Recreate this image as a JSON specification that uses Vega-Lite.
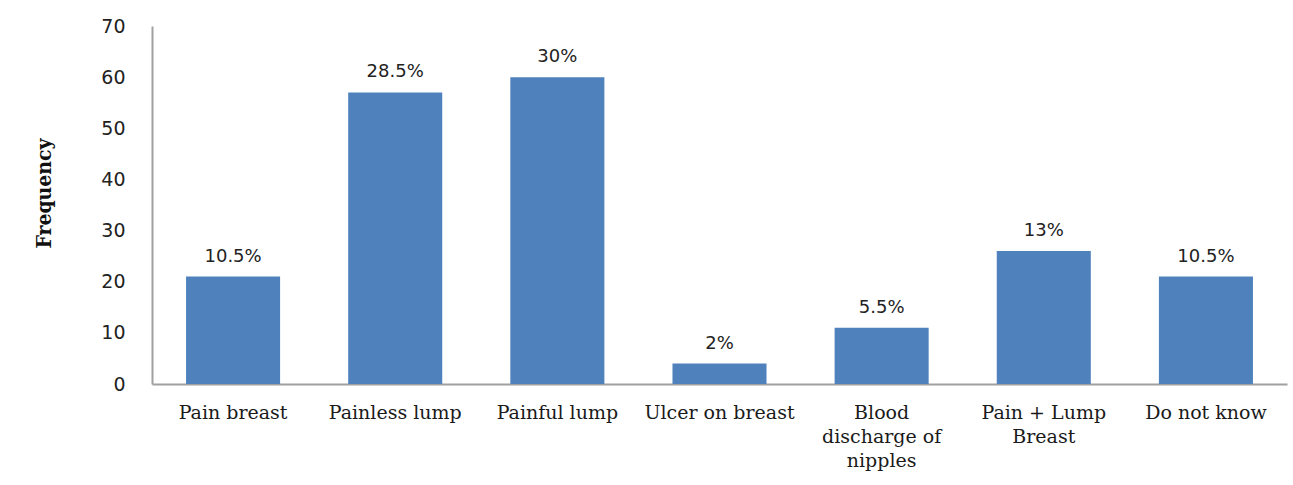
{
  "$schema": "https://vega.github.io/schema/vega-lite/v6.json",
  "autosize": {"type": "none"},
  "padding": {"left": 152, "top": 26, "right": 6, "bottom": 101},
  "width": 1135,
  "height": 358,
  "background": "white",
  "config": {
    "view": {"stroke": null},
    "axis": {"grid": false, "ticks": false}
  },
  "data": {
    "values": [
      {"symptom": "Pain breast", "frequency": 21, "percent": 10.5},
      {"symptom": "Painless lump", "frequency": 57, "percent": 28.5},
      {"symptom": "Painful lump", "frequency": 60, "percent": 30},
      {"symptom": "Ulcer on breast", "frequency": 4, "percent": 2},
      {"symptom": "Blood discharge of nipples", "frequency": 11, "percent": 5.5},
      {"symptom": "Pain + Lump Breast", "frequency": 26, "percent": 13},
      {"symptom": "Do not know", "frequency": 21, "percent": 10.5}
    ]
  },
  "transform": [{"calculate": "datum.percent + '%'", "as": "pctLabel"}],
  "encoding": {
    "x": {
      "field": "symptom",
      "type": "nominal",
      "sort": null,
      "scale": {"paddingInner": 0.42, "paddingOuter": 0.21},
      "axis": {
        "title": null,
        "labelAngle": 0,
        "labelFont": "DejaVu Serif",
        "labelFontSize": 19,
        "labelColor": "#1a1a1a",
        "labelPadding": 19,
        "labelBaseline": "top",
        "labelLineHeight": 24,
        "labelLimit": 200,
        "domainColor": "#a0a0a0",
        "domainWidth": 2,
        "labelExpr": "datum.value == 'Blood discharge of nipples' ? ['Blood', 'discharge of', 'nipples'] : datum.value == 'Pain + Lump Breast' ? ['Pain + Lump', 'Breast'] : datum.label"
      }
    },
    "y": {
      "field": "frequency",
      "type": "quantitative",
      "scale": {"domain": [0, 70], "nice": false},
      "axis": {
        "title": "Frequency",
        "titleFont": "DejaVu Serif Condensed",
        "titleFontWeight": "bold",
        "titleFontSize": 21,
        "titleColor": "#111",
        "titlePadding": 46,
        "titleY": 167,
        "values": [0, 10, 20, 30, 40, 50, 60, 70],
        "labelFont": "DejaVu Sans",
        "labelFontSize": 19,
        "labelColor": "#222",
        "labelPadding": 27,
        "domainColor": "#a0a0a0",
        "domainWidth": 2
      }
    }
  },
  "layer": [
    {"mark": {"type": "bar", "color": "#4F81BD"}},
    {
      "mark": {
        "type": "text",
        "font": "DejaVu Sans",
        "fontSize": 18,
        "color": "#222",
        "baseline": "alphabetic",
        "dy": -15
      },
      "encoding": {"text": {"field": "pctLabel"}}
    }
  ]
}
